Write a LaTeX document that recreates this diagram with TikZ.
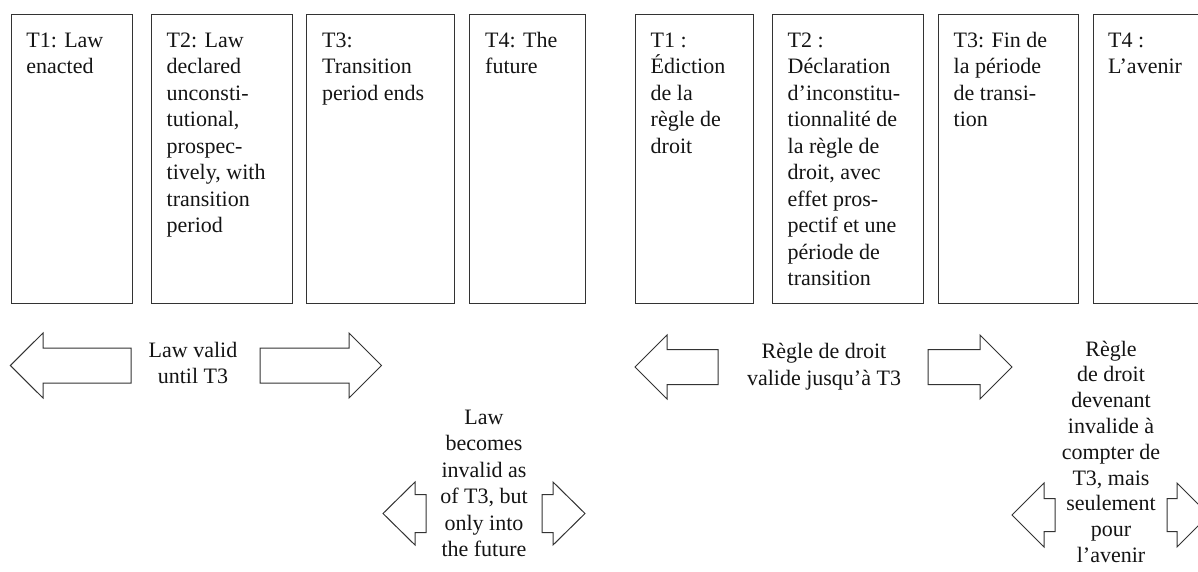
\documentclass[tikz,border=0pt]{standalone}
\usepackage{fontspec}
\setmainfont{Liberation Serif}
\newcommand\Lines[1]{\begin{tabular}[t]{@{}l@{}}#1\end{tabular}}
\newcommand\CLines[1]{\begin{tabular}[t]{@{}c@{}}#1\end{tabular}}
% left-pointing block arrow: tip x, centre y, head base x, tail x, head half height, shaft half height
\newcommand\myLArrow[6]{%
  \draw[arr] (#1,#2) -- (#3,#2-#5) -- (#3,#2-#6) -- (#4,#2-#6) -- (#4,#2+#6) -- (#3,#2+#6) -- (#3,#2+#5) -- cycle;}
% right-pointing block arrow: tail x, centre y, head base x, tip x, head half height, shaft half height
\newcommand\myRArrow[6]{%
  \draw[arr] (#1,#2-#6) -- (#3,#2-#6) -- (#3,#2-#5) -- (#4,#2) -- (#3,#2+#5) -- (#3,#2+#6) -- (#1,#2+#6) -- cycle;}
\begin{document}
\begin{tikzpicture}[x=1pt,y=-1pt,
  frame/.style={draw=black!80, line width=1pt, minimum height=289pt, anchor=north west, inner sep=0pt},
  txt/.style={anchor=base west, inner sep=0pt, text=black!92, font=\fontsize{22}{26.5}\selectfont},
  lbl/.style={anchor=base, inner sep=0pt, text=black!92, font=\fontsize{22}{26.5}\selectfont},
  arr/.style={draw=black!80, line width=1pt, line join=miter, fill=white}]
\useasboundingbox (0,0) rectangle (1198,571);
\clip (0,0) rectangle (1198,571);

% ---------- English panel ----------
\node[frame, minimum width=121.3pt] (e1) at (10.7,14) {};
\node[frame, minimum width=141pt] (e2) at (151,14) {};
\node[frame, minimum width=148pt] (e3) at (306,14) {};
\node[frame, minimum width=116pt] (e4) at (469,14) {};

\node[txt] (e1t) at (26.2,47) {\Lines{T1: Law\\enacted}};
\node[txt] (e2t) at (166.5,47) {\Lines{T2: Law\\declared\\unconsti-\\tutional,\\prospec-\\tively, with\\transition\\period}};
\node[txt] (e3t) at (322,47) {\Lines{T3:\\Transition\\period ends}};
\node[txt] (e4t) at (485,47) {\Lines{T4: The\\future}};

\myLArrow{10.3}{365.5}{43}{131}{32.5}{17.5}
\node[lbl] (ev) at (193,357) {\CLines{Law valid\\until T3}};
\myRArrow{260}{365.5}{349}{381.5}{32.5}{17.5}

\myLArrow{383}{513.5}{415}{426}{31.5}{19}
\node[lbl] (ei) at (484,424) {\CLines{Law\\becomes\\invalid as\\of T3, but\\only into\\the future}};
\myRArrow{542}{513.5}{553}{585}{31.5}{19}

% ---------- French panel ----------
\node[frame, minimum width=118pt] (f1) at (635,14) {};
\node[frame, minimum width=151pt] (f2) at (772,14) {};
\node[frame, minimum width=140pt] (f3) at (938,14) {};
\node[frame, minimum width=140pt] (f4) at (1093,14) {};

\node[txt] (f1t) at (650.5,47) {\Lines{T1 :\\Édiction\\de la\\règle de\\droit}};
\node[txt] (f2t) at (787.5,47) {\Lines{T2 :\\Déclaration\\d’inconstitu-\\tionnalité de\\la règle de\\droit, avec\\effet pros-\\pectif et une\\période de\\transition}};
\node[txt] (f3t) at (953.5,47) {\Lines{T3: Fin de\\la période\\de transi-\\tion}};
\node[txt] (f4t) at (1108,47) {\Lines{T4 :\\L’avenir}};

\myLArrow{635}{367}{667}{718}{32}{17.5}
\node[lbl] (fv) at (824,358.5) {\CLines{Règle de droit\\valide jusqu’à T3}};
\myRArrow{928}{367}{980}{1012}{32}{17.5}

\myLArrow{1012}{515}{1044}{1055}{32}{16.5}
\node[lbl, font=\fontsize{22}{25.8}\selectfont] (fi) at (1111,356) {\CLines{Règle\\de droit\\devenant\\invalide à\\compter de\\T3, mais\\seulement\\pour\\l’avenir}};
\myRArrow{1167}{515}{1177}{1209}{32}{16.5}
\end{tikzpicture}
\end{document}
